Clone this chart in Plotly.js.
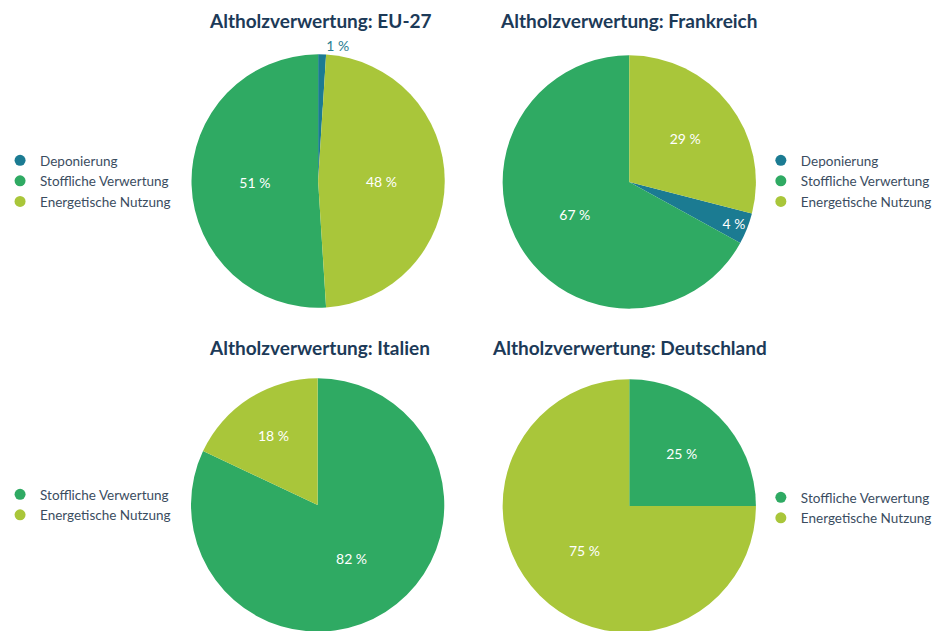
<!DOCTYPE html>
<html>
<head>
<meta charset="utf-8">
<script src="https://cdn.plot.ly/plotly-3.0.1.min.js"></script>
<style>
html, body { margin: 0; padding: 0; overflow: hidden; background: #ffffff; }
#chart { width: 937px; height: 645px; }
</style>
</head>
<body>
<div id="chart"></div>
<script>
// ---- data ----
const titles = [
  "Altholzverwertung: EU-27",
  "Altholzverwertung: Frankreich",
  "Altholzverwertung: Italien",
  "Altholzverwertung: Deutschland"
];
const labelsEU = ["Deponierung", "Stoffliche Verwertung", "Energetische Nutzung"];
const valuesEU = [1, 51, 48];
const labelsFR = ["Deponierung", "Stoffliche Verwertung", "Energetische Nutzung"];
const valuesFR = [4, 67, 29];
const labelsIT = ["Stoffliche Verwertung", "Energetische Nutzung"];
const valuesIT = [82, 18];
const labelsDE = ["Stoffliche Verwertung", "Energetische Nutzung"];
const valuesDE = [25, 75];

// ---- styles ----
const colorMap = {
  "Deponierung": "#1b7b92",
  "Stoffliche Verwertung": "#2faa63",
  "Energetische Nutzung": "#a9c63a"
};
const FONT = "Lato, 'Source Sans Pro', 'Noto Sans', sans-serif";
const W = 937, H = 645;
function px2x(p) { return p / W; }
function px2y(p) { return 1 - p / H; }

const pies = [
  {labels: labelsEU, values: valuesEU, cx: 315.5, cy: 181, r: 128, dir: "counterclockwise", rot: 0,
   pos: ["outside", "inside", "inside"], legend: "legend", lx: -6, ly: 181, tx: 318},
  {labels: labelsFR, values: valuesFR, cx: 630, cy: 182, r: 128, dir: "clockwise", rot: 104.4,
   pos: ["inside", "inside", "inside"], legend: "legend2", lx: 763, ly: 181, tx: 630},
  {labels: labelsIT, values: valuesIT, cx: 315, cy: 505, r: 128, dir: "clockwise", rot: 0,
   pos: ["inside", "inside"], legend: "legend3", lx: -6, ly: 505, tx: 317},
  {labels: labelsDE, values: valuesDE, cx: 630, cy: 506, r: 128, dir: "clockwise", rot: 0,
   pos: ["inside", "inside"], legend: "legend4", lx: 763, ly: 508, tx: 630}
];

const traces = [];
const annotations = [];
const layout = {
  width: W, height: H,
  margin: {l: 0, r: 0, t: 0, b: 0},
  paper_bgcolor: "#ffffff",
  plot_bgcolor: "#ffffff",
  font: {family: FONT, color: "#3b4d5f", size: 13},
  xaxis: {visible: false, range: [0, 1]},
  yaxis: {visible: false, range: [0, 1]},
  showlegend: true,
  annotations: annotations
};

pies.forEach(function (p, i) {
  traces.push({
    type: "pie",
    labels: p.labels,
    values: p.values,
    sort: false,
    direction: p.dir,
    rotation: p.rot,
    marker: {colors: p.labels.map(l => colorMap[l]), line: {width: 0}},
    textposition: p.pos,
    texttemplate: "%{value} %",
    insidetextorientation: "horizontal",
    insidetextfont: {family: FONT, color: "#ffffff", size: 14},
    outsidetextfont: {family: FONT, color: "#2a7d93", size: 14},
    showlegend: false,
    hoverinfo: "label+value",
    domain: {
      x: [px2x(p.cx - p.r), px2x(p.cx + p.r)],
      y: [px2y(p.cy + p.r), px2y(p.cy - p.r)]
    }
  });
  // legend entries with round symbols
  p.labels.forEach(function (l) {
    traces.push({
      type: "scatter",
      mode: "markers",
      x: [null], y: [null],
      name: l,
      legend: p.legend,
      marker: {color: colorMap[l], size: 11, symbol: "circle"},
      hoverinfo: "skip",
      showlegend: true
    });
  });
  layout[p.legend] = {
    x: px2x(p.lx), xanchor: "left",
    y: px2y(p.ly), yanchor: "middle",
    bgcolor: "rgba(0,0,0,0)",
    borderwidth: 0,
    font: {family: FONT, color: "#3b4d5f", size: 13.5},
    itemclick: false, itemdoubleclick: false
  };
  annotations.push({
    text: "<b>" + titles[i] + "</b>",
    xref: "paper", yref: "paper",
    x: px2x(p.tx), y: px2y(i < 2 ? 20 : 347),
    xanchor: "center", yanchor: "middle",
    showarrow: false,
    font: {family: FONT, size: 19, color: "#1c3a58"}
  });
});

Plotly.newPlot("chart", traces, layout, {displayModeBar: false, staticPlot: true});
</script>
</body>
</html>
